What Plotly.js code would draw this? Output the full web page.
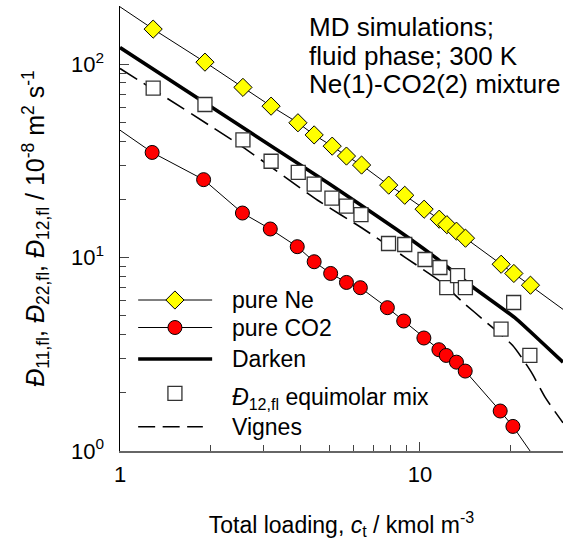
<!DOCTYPE html>
<html>
<head>
<meta charset="utf-8">
<script src="https://cdn.plot.ly/plotly-3.0.1.min.js"></script>
<style>html,body{margin:0;padding:0;background:#fff;}#chart{width:564px;height:548px;}</style>
</head>
<body>
<div id="chart"></div>
<script>
// ---- data ----
// pure Ne (yellow diamonds)
const neX = [1.29, 1.92, 2.57, 3.19, 3.92, 4.44, 5.10, 5.69, 6.39, 7.87, 8.90, 10.33, 11.60, 12.30, 13.24, 14.19, 18.66, 20.57, 23.37];
const neY = [151.9, 102.5, 75.9, 60.7, 49.8, 43.1, 37.7, 33.5, 30.1, 23.7, 21.0, 17.8, 15.8, 14.8, 13.7, 12.6, 9.24, 8.28, 7.20];
const neEndX = [1, 30];
const neEndY = [198, 5.4];
// pure CO2 (red circles)
const co2X = [1.28, 1.90, 2.56, 3.17, 3.90, 4.44, 5.04, 5.69, 6.33, 7.79, 8.83, 10.31, 11.57, 12.24, 13.24, 14.16, 18.52, 20.42];
const co2Y = [34.98, 25.3, 17.0, 14.06, 11.39, 9.52, 8.28, 7.44, 6.99, 5.51, 4.70, 3.84, 3.34, 3.12, 2.88, 2.59, 1.61, 1.34];
const co2EndX = [1, 23.3];
const co2EndY = [45.6, 1.0];
// Darken prediction (thick line)
const darkenX = [1, 2.7, 5.0, 8.3, 11.0, 15.0, 20.9, 25.0, 30];
const darkenY = [122, 44.7, 24.0, 14.1, 10.3, 7.05, 4.84, 3.75, 2.88];
// D12 equimolar mix (open squares)
const mixX = [1.29, 1.92, 2.57, 3.19, 3.93, 4.44, 5.09, 5.69, 6.36, 7.86, 8.90, 10.40, 11.66, 12.29, 13.35, 14.18, 18.64, 20.54, 23.26];
const mixY = [75.2, 61.9, 40.6, 31.5, 27.6, 24.0, 20.3, 18.45, 16.7, 11.83, 11.69, 9.78, 8.89, 7.00, 8.06, 7.00, 4.27, 5.86, 3.12];
// Vignes prediction (dashed line)
const vignesX = [1, 2.56, 4.56, 6.52, 9.0, 11.75, 13.87, 16.6, 20.36, 23.44, 26.3, 30];
const vignesY = [95.1, 37.4, 19.8, 13.98, 9.94, 7.49, 5.90, 4.65, 3.52, 2.58, 1.87, 1.40];

// ticks
const xTickVals = [1, 10];
const xTickText = ['1', '10'];
const xMinorVals = [2, 3, 4, 5, 6, 7, 8, 9, 20, 30];
const yTickVals = [1, 10, 100];
const yTickText = ['10<sup>0</sup>', '10<sup>1</sup>', '10<sup>2</sup>'];
const yMinorVals = [2, 3, 4, 5, 6, 7, 8, 9, 20, 30, 40, 50, 60, 70, 80, 90, 200];

// legend entries
const legendLabels = ['pure Ne', 'pure CO2', 'Darken', '<i>Đ</i><sub>12,fl</sub> equimolar mix', 'Vignes'];
const noteLines = ['MD simulations;', 'fluid phase; 300 K', 'Ne(1)-CO2(2) mixture'];

// ---- styling ----
const FONT = 'Liberation Sans, Arial, Helvetica, sans-serif';
const neMarker = {symbol: 'diamond', size: 14, color: '#FFFF00', line: {color: '#000', width: 1}};
const co2Marker = {symbol: 'circle', size: 14, color: '#FF0000', line: {color: '#000', width: 1}};
const mixMarker = {symbol: 'square', size: 14, color: '#FFFFFF', line: {color: '#333', width: 1.3}};
const thin = {color: '#000', width: 1};
const thick = {color: '#000', width: 3.6};
const dashed = {color: '#000', width: 1.6, dash: '20px,8px'};
const dashedLegend = {color: '#000', width: 1.6, dash: '17px,7.5px'};

const traces = [];
// curves
traces.push({x: neEndX.slice(0,1).concat(neX, neEndX.slice(1)), y: neEndY.slice(0,1).concat(neY, neEndY.slice(1)), mode: 'lines', line: thin, hoverinfo: 'skip'});
traces.push({x: co2EndX.slice(0,1).concat(co2X, co2EndX.slice(1)), y: co2EndY.slice(0,1).concat(co2Y, co2EndY.slice(1)), mode: 'lines', line: thin, hoverinfo: 'skip'});
traces.push({x: darkenX, y: darkenY, mode: 'lines', line: Object.assign({shape: 'spline', smoothing: 0.6}, thick)});
traces.push({x: vignesX, y: vignesY, mode: 'lines', line: Object.assign({shape: 'spline', smoothing: 0.6}, dashed)});
// markers
traces.push({x: mixX, y: mixY, mode: 'markers', marker: mixMarker});
traces.push({x: co2X, y: co2Y, mode: 'markers', marker: co2Marker});
traces.push({x: neX, y: neY, mode: 'markers', marker: neMarker});

// custom legend (on a hidden 0..1 overlay axis pair)
const legX0 = 0.041, legX1 = 0.208, legXV1 = 0.187, legMX = 0.124, legTX = 0.249;
const legRows = [0.3393, 0.2775, 0.2067, 0.1297, 0.0546];
const lg = {xaxis: 'x2', yaxis: 'y2', cliponaxis: false, hoverinfo: 'skip'};
traces.push(Object.assign({x: [legX0, legX1], y: [legRows[0], legRows[0]], mode: 'lines', line: thin}, lg));
traces.push(Object.assign({x: [legMX], y: [legRows[0]], mode: 'markers', marker: neMarker}, lg));
traces.push(Object.assign({x: [legX0, legX1], y: [legRows[1], legRows[1]], mode: 'lines', line: thin}, lg));
traces.push(Object.assign({x: [legMX], y: [legRows[1]], mode: 'markers', marker: co2Marker}, lg));
traces.push(Object.assign({x: [legX0, legX1], y: [legRows[2], legRows[2]], mode: 'lines', line: thick}, lg));
traces.push(Object.assign({x: [legMX], y: [legRows[3]], mode: 'markers', marker: mixMarker}, lg));
traces.push(Object.assign({x: [legX0, legXV1], y: [legRows[4], legRows[4]], mode: 'lines', line: dashedLegend}, lg));

const annotations = [];
legendLabels.forEach((t, i) => annotations.push({
  xref: 'paper', yref: 'paper', x: legTX, y: legRows[i] + (i === 3 ? -0.012 : 0), xanchor: 'left', yanchor: 'middle',
  text: t, showarrow: false, font: {family: FONT, size: 23, color: '#000'}
}));
const noteY = [0.952, 0.888, 0.824];
noteLines.forEach((t, i) => annotations.push({
  xref: 'paper', yref: 'paper', x: 0.423, y: noteY[i], xanchor: 'left', yanchor: 'middle',
  text: t, showarrow: false, font: {family: FONT, size: 26, color: '#000'}
}));

const layout = {
  width: 564, height: 548,
  margin: {l: 120, r: 1, t: 6, b: 97, pad: 0},
  paper_bgcolor: '#fff', plot_bgcolor: '#fff',
  showlegend: false,
  font: {family: FONT, color: '#000'},
  xaxis: {
    type: 'log', range: [0, Math.log10(30)], automargin: false,
    showline: true, linecolor: '#666', linewidth: 2, mirror: false,
    showgrid: false, zeroline: false,
    ticks: 'inside', ticklen: 9, tickwidth: 1, tickcolor: '#444',
    tickmode: 'array', tickvals: xTickVals, ticktext: xTickText,
    tickfont: {family: FONT, size: 22, color: '#000'}, ticklabelstandoff: 3,
    minor: {ticks: 'inside', ticklen: 6, tickwidth: 1, tickcolor: '#444', tickmode: 'array', tickvals: xMinorVals, showgrid: false},
    title: {text: 'Total loading, <i>c</i><sub>t</sub> / kmol m<sup>-3</sup>', font: {family: FONT, size: 23, color: '#000'}, standoff: 30}
  },
  yaxis: {
    type: 'log', range: [0, Math.log10(200)], automargin: false,
    showline: true, linecolor: '#000', linewidth: 1.5, mirror: false,
    showgrid: false, zeroline: false,
    ticks: 'inside', ticklen: 9, tickwidth: 1, tickcolor: '#444',
    tickmode: 'array', tickvals: yTickVals, ticktext: yTickText,
    tickfont: {family: FONT, size: 22, color: '#000'}, ticklabelstandoff: 10,
    minor: {ticks: 'inside', ticklen: 6, tickwidth: 1, tickcolor: '#444', tickmode: 'array', tickvals: yMinorVals, showgrid: false},
    title: {text: '<i>Đ</i><sub>11,fl</sub>, <i>Đ</i><sub>22,fl</sub>, <i>Đ</i><sub>12,fl</sub> / 10<sup>-8</sup> m<sup>2</sup> s<sup>-1</sup>', font: {family: FONT, size: 25, color: '#000'}, standoff: 19}
  },
  xaxis2: {overlaying: 'x', anchor: 'y2', range: [0, 1], visible: false, fixedrange: true},
  yaxis2: {overlaying: 'y', anchor: 'x2', range: [0, 1], visible: false, fixedrange: true},
  annotations: annotations
};

Plotly.newPlot('chart', traces, layout, {displayModeBar: false, staticPlot: true});
</script>
</body>
</html>
